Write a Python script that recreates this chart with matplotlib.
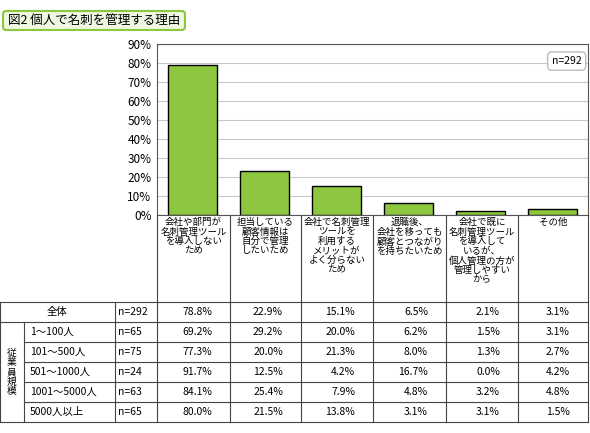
import matplotlib.pyplot as plt
from matplotlib.patches import FancyBboxPatch

plt.rcParams['font.family'] = ['Noto Sans CJK JP', 'DejaVu Sans']

# data
categories = ['会社や部門が\n名刺管理ツール\nを導入しない\nため',
              '担当している\n顧客情報は\n自分で管理\nしたいため',
              '会社で名刺管理\nツールを\n利用する\nメリットが\nよく分らない\nため',
              '退職後、\n会社を移っても\n顧客とつながり\nを持ちたいため',
              '会社で既に\n名刺管理ツール\nを導入して\nいるが、\n個人管理の方が\n管理しやすい\nから',
              'その他']
row_labels = ['全体', '1～100人', '101～500人', '501～1000人', '1001～5000人', '5000人以上']
row_n = ['n=292', 'n=65', 'n=75', 'n=24', 'n=63', 'n=65']
table_vals = [
    [78.8, 22.9, 15.1, 6.5, 2.1, 3.1],
    [69.2, 29.2, 20.0, 6.2, 1.5, 3.1],
    [77.3, 20.0, 21.3, 8.0, 1.3, 2.7],
    [91.7, 12.5, 4.2, 16.7, 0.0, 4.2],
    [84.1, 25.4, 7.9, 4.8, 3.2, 4.8],
    [80.0, 21.5, 13.8, 3.1, 3.1, 1.5],
]
bar_vals = table_vals[0]

W, H = 590, 433
fig = plt.figure(figsize=[W / 100, H / 100], dpi=100, facecolor='white')

# pixel layout
axL, axR, axT, axB = 157, 588, 44, 215
colX = [157, 230, 301, 373, 446, 518, 588]
rowY = [302, 322, 342, 362, 382, 402]
tableBottom = 422

ax = fig.add_axes([axL / W, 1 - axB / H, (axR - axL) / W, (axB - axT) / H])
ax.bar(range(6), bar_vals, width=0.68, color='#8dc63f', edgecolor='black', linewidth=1, zorder=3)
ax.set_xlim(-0.5, 5.5)
ax.set_ylim(0, 90)
ax.set_yticks(range(0, 91, 10))
ax.set_yticklabels(['%d%%' % v for v in range(0, 91, 10)], fontsize=8.5)
ax.set_xticks([])
ax.grid(axis='y', color='#c8c8c8', linewidth=0.8, zorder=0)
ax.tick_params(axis='y', length=0, pad=4)
for s in ax.spines.values():
    s.set_color('#555555')
ax.text(0.985, 0.9, 'n=292', transform=ax.transAxes, ha='right', va='center', fontsize=7.5,
        bbox=dict(boxstyle='round,pad=0.4', fc='white', ec='#bbbbbb'))

# overlay in pixel coords
ov = fig.add_axes([0, 0, 1, 1])
ov.set_xlim(0, W)
ov.set_ylim(H, 0)
ov.axis('off')

lc = '#444444'
lw = 0.8
# title
ov.add_patch(FancyBboxPatch((3, 11), 182, 19, boxstyle='round,pad=0,rounding_size=3',
                            fc='#eef7e0', ec='#8dc63f', lw=1.5))
ov.text(8, 20.5, '図2 個人で名刺を管理する理由', fontsize=9, va='center', ha='left')

# category label cells
for x in colX:
    ov.plot([x, x], [axB, rowY[0]], color=lc, lw=lw)
for i, c in enumerate(categories):
    ov.text((colX[i] + colX[i + 1]) / 2, axB + 3, c, ha='center', va='top', fontsize=6.8,
            linespacing=1.05)

# table
ov.plot([0, axR], [rowY[0], rowY[0]], color=lc, lw=lw)
ov.plot([0, axR], [rowY[1], rowY[1]], color=lc, lw=lw)
for y in rowY[2:]:
    ov.plot([24, axR], [y, y], color=lc, lw=lw)
ov.plot([0, axR], [tableBottom, tableBottom], color=lc, lw=lw)
ov.plot([0, 0], [rowY[0], tableBottom], color=lc, lw=lw)
ov.plot([24, 24], [rowY[1], tableBottom], color=lc, lw=lw)
ov.plot([115, 115], [rowY[0], tableBottom], color=lc, lw=lw)
for x in colX:
    ov.plot([x, x], [rowY[0], tableBottom], color=lc, lw=lw)
rowEdges = rowY + [tableBottom]
ov.text(12, (rowY[1] + tableBottom) / 2, '従\n業\n員\n規\n模', ha='center', va='center',
        fontsize=7, linespacing=0.95)
for r in range(6):
    yc = (rowEdges[r] + rowEdges[r + 1]) / 2
    if r == 0:
        ov.text(57, yc, row_labels[r], ha='center', va='center', fontsize=7.5)
    else:
        ov.text(30, yc, row_labels[r], ha='left', va='center', fontsize=7.5)
    ov.text(118, yc, row_n[r], ha='left', va='center', fontsize=7.5)
    for i, v in enumerate(table_vals[r]):
        ov.text(colX[i + 1] - 18, yc, '%.1f%%' % v, ha='right', va='center', fontsize=7.5)

plt.savefig('out.png', dpi=100, facecolor='white')
